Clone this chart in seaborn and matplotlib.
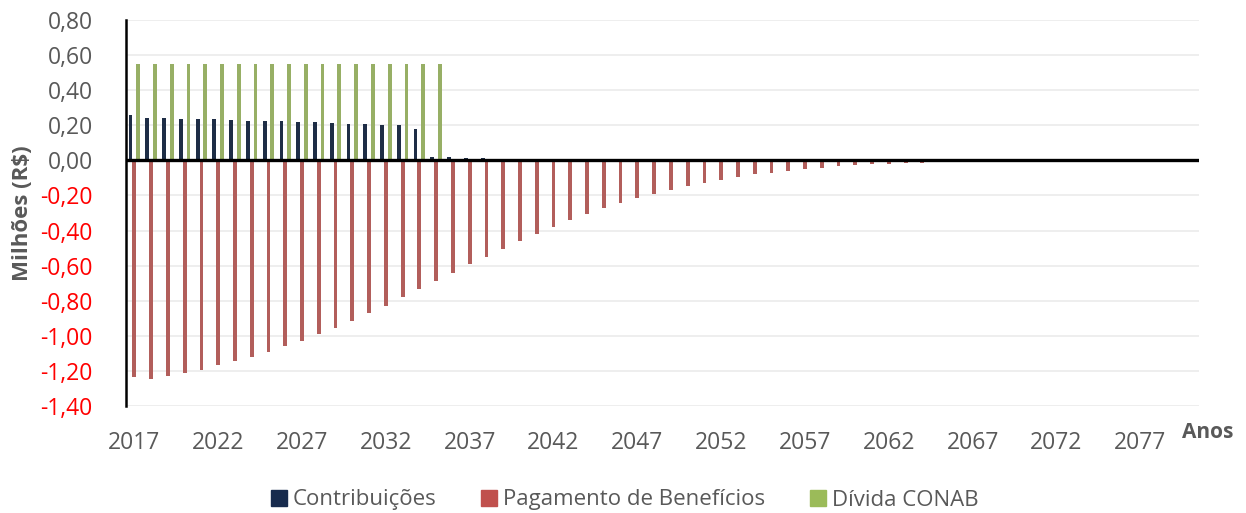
import numpy as np
import pandas as pd
import seaborn as sb
import matplotlib.pyplot as plt
from matplotlib.lines import Line2D

anos = list(range(2017, 2081))

contribuicoes = [0.259, 0.242, 0.240, 0.238, 0.236, 0.234, 0.230, 0.228, 0.225, 0.223,
                 0.219, 0.217, 0.213, 0.209, 0.207, 0.204, 0.200, 0.181,
                 0.020, 0.018, 0.014, 0.012, 0.009, 0.007, 0.005, 0.004, 0.003,
                 0.002, 0.001] + [0.0] * 35

beneficios = [-1.236, -1.248, -1.233, -1.213, -1.195, -1.168, -1.145, -1.120, -1.092,
              -1.059, -1.029, -0.991, -0.955, -0.915, -0.873, -0.829, -0.781, -0.735,
              -0.688, -0.642, -0.594, -0.551, -0.505, -0.461, -0.419, -0.379, -0.341,
              -0.307, -0.274, -0.242, -0.215, -0.189, -0.166, -0.145, -0.126, -0.109,
              -0.094, -0.080, -0.069, -0.059, -0.050, -0.042, -0.034, -0.028, -0.023,
              -0.019, -0.015, -0.012, -0.009, -0.007, -0.005, -0.004, -0.003, -0.002,
              -0.001] + [0.0] * 9

divida_conab = [0.55] * 19 + [0.0] * 45

series = ['Contribuições', 'Pagamento de Benefícios', 'Dívida CONAB']
cores = ['#172B4D', '#C0504D', '#9BBB59']

sb.set_style('white')
plt.rcParams['font.family'] = ['Open Sans', 'DejaVu Sans']

df = pd.DataFrame({
    'ano': [str(a) for a in anos] * 3,
    'valor': contribuicoes + beneficios + divida_conab,
    'serie': [series[0]] * len(anos) + [series[1]] * len(anos) + [series[2]] * len(anos),
})

fig = plt.figure(figsize=(12.46, 5.13), dpi=100)
ax = fig.add_axes([0.1011, 0.2092, 0.8612, 0.7512])

sb.barplot(data=df, x='ano', y='valor', hue='serie', hue_order=series,
           palette=cores, width=0.68, errorbar=None, linewidth=0, ax=ax)
ax.legend_.remove()

ax.set_ylim(-1.4, 0.8)
ax.set_xlim(-0.5, len(anos) - 0.5)
yt = np.round(np.arange(-1.4, 0.81, 0.2), 2)
ax.set_yticks(yt)
ax.set_yticklabels([f'{abs(v) if v == 0 else v:.2f}'.replace('.', ',') for v in yt])
for lbl, v in zip(ax.get_yticklabels(), yt):
    lbl.set_color('#FF0000' if v < 0 else '#595959')
ax.set_xticks(range(0, len(anos), 5))
ax.set_xticklabels([str(a) for a in anos[::5]], color='#595959')
ax.tick_params(axis='y', length=0, pad=24, labelsize=16.5)
ax.tick_params(axis='x', length=0, pad=18, labelsize=16.5)

ax.yaxis.grid(True, color='#EDEDED', lw=1.3)
ax.set_axisbelow(True)
ax.axhline(0, color='black', lw=2.4, zorder=5)
for s in ['top', 'right', 'bottom']:
    ax.spines[s].set_visible(False)
ax.spines['left'].set_color('black')
ax.spines['left'].set_linewidth(1.8)

ax.set_xlabel('')
ax.set_ylabel('Milhões (R$)', fontsize=16, fontweight='bold', color='#595959')
ax.yaxis.set_label_coords(-0.087, 0.5)
fig.text(1208 / 1246, 1 - 432 / 513, 'Anos', fontsize=15, fontweight='bold',
         color='#595959', ha='center', va='center')

handles = [Line2D([], [], marker='s', ls='', color=c, markersize=12) for c in cores]
fig.legend(handles, series, loc='center', bbox_to_anchor=(0.5, 1 - 500 / 513), ncol=3,
           frameon=False, fontsize=16, labelcolor='#595959', handletextpad=0.1,
           columnspacing=1.9, handlelength=1.0)

plt.savefig('out.png', dpi=100)
